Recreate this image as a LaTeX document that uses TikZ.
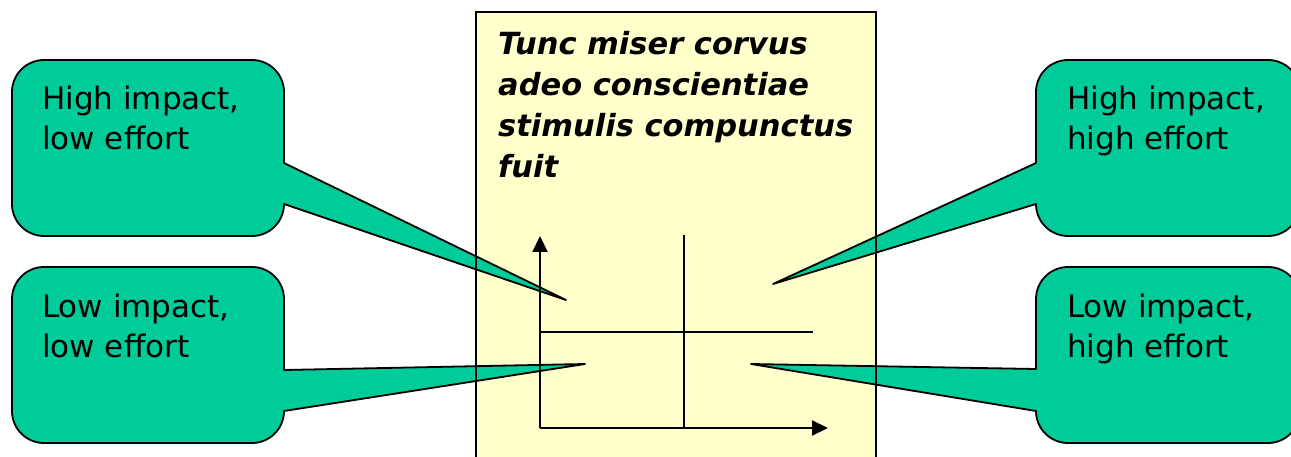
\documentclass[tikz,border=0pt]{standalone}
\usepackage{fontspec}
\setmainfont{DejaVu Sans}
\usetikzlibrary{arrows.meta}
\definecolor{calloutgreen}{RGB}{0,204,153}
\definecolor{paleyellow}{RGB}{255,255,204}
\tikzset{
  callout/.style={fill=calloutgreen, draw=black, line width=1.8pt, line join=round},
  label/.style={anchor=base west, inner sep=0pt, font=\fontsize{31}{40}\selectfont},
  titleline/.style={anchor=base west, inner sep=0pt, font=\fontsize{30.5}{41}\selectfont\bfseries\itshape},
  axis/.style={line width=2.1pt, -{Triangle[length=16pt,width=15pt]}},
  divider/.style={line width=2.1pt}
}
\begin{document}
\begin{tikzpicture}[x=1pt,y=-1pt]
\useasboundingbox (0,0) rectangle (1291,457);
\clip (0,0) rectangle (1291,457);
% yellow panel fill
\fill[paleyellow] (476,12) rectangle (876,470);
% callouts
\path[callout] (12,92) arc[start angle=180,end angle=270,radius=32] -- (252,60)
  arc[start angle=270,end angle=360,radius=32] -- (284,163) -- (566,300) -- (284,204)
  arc[start angle=0,end angle=90,radius=32] -- (44,236)
  arc[start angle=90,end angle=180,radius=32] -- cycle;
\path[callout] (1036,92) arc[start angle=180,end angle=270,radius=32] -- (1268,60)
  arc[start angle=270,end angle=360,radius=32] -- (1300,204)
  arc[start angle=0,end angle=90,radius=32] -- (1068,236)
  arc[start angle=90,end angle=180,radius=32] -- (773,284) -- (1036,163) -- cycle;
\path[callout] (12,299) arc[start angle=180,end angle=270,radius=32] -- (252,267)
  arc[start angle=270,end angle=360,radius=32] -- (284,370) -- (585,364) -- (284,411)
  arc[start angle=0,end angle=90,radius=32] -- (44,443)
  arc[start angle=90,end angle=180,radius=32] -- cycle;
\path[callout] (1036,299) arc[start angle=180,end angle=270,radius=32] -- (1268,267)
  arc[start angle=270,end angle=360,radius=32] -- (1300,411)
  arc[start angle=0,end angle=90,radius=32] -- (1068,443)
  arc[start angle=90,end angle=180,radius=32] -- (751,364) -- (1036,369) -- cycle;
% yellow panel border
\draw[line width=2.4pt] (476,470) -- (476,12) -- (876,12) -- (876,470);
% title
\node[titleline] (t1) at (498,55) {Tunc miser corvus};
\node[titleline] (t2) at (498,96) {adeo conscientiae};
\node[titleline] (t3) at (498,137) {stimulis compunctus};
\node[titleline] (t4) at (498,178) {fuit};
% callout texts
\node[label] (hl1) at (42,110) {High impact,};
\node[label] (hl2) at (42,150) {low effort};
\node[label] (hh1) at (1067,110) {High impact,};
\node[label] (hh2) at (1067,150) {high effort};
\node[label] (ll1) at (42,317) {Low impact,};
\node[label] (ll2) at (42,357) {low effort};
\node[label] (lh1) at (1067,317) {Low impact,};
\node[label] (lh2) at (1067,357) {high effort};
% axes
\coordinate (O) at (540,428);
\coordinate (ytip) at (540,236);
\coordinate (xtip) at (828,428);
\coordinate (vtop) at (684,235);
\coordinate (vbot) at (684,428);
\coordinate (hl) at (540,332);
\coordinate (hr) at (813,332);
\draw[axis] (O) -- (ytip);
\draw[axis] (O) -- (xtip);
\draw[divider] (vtop) -- (vbot);
\draw[divider] (hl) -- (hr);
\end{tikzpicture}
\end{document}
